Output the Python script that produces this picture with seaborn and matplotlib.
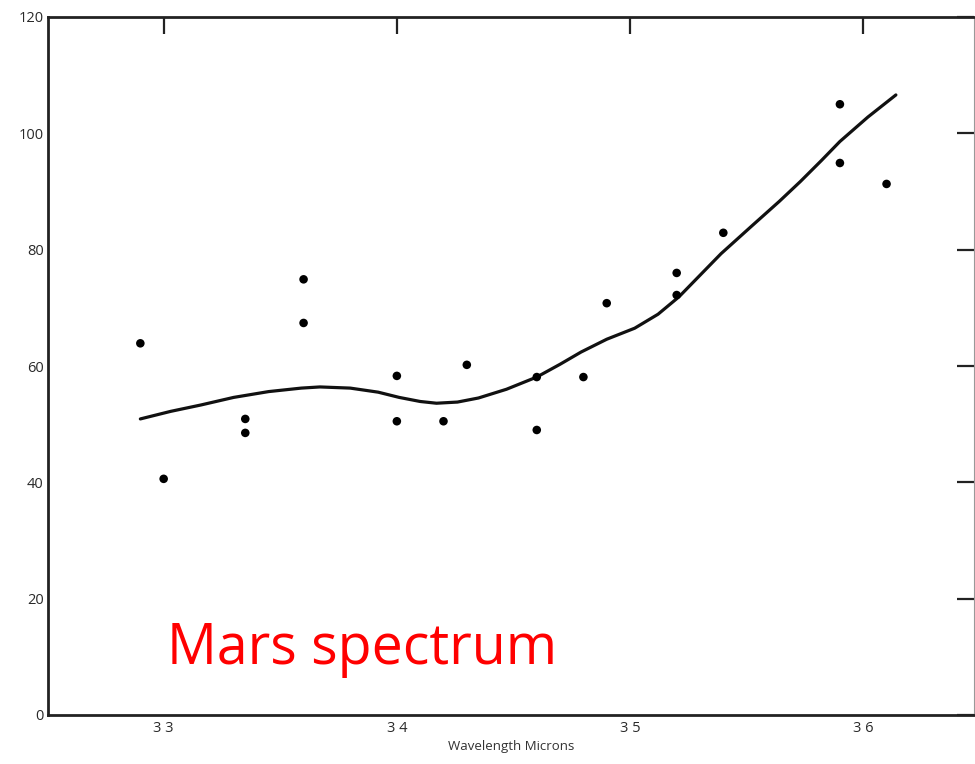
import matplotlib
matplotlib.use("Agg")
import matplotlib.pyplot as plt
import seaborn as sns
import pandas as pd

# Observed points (wavelength in microns, relative intensity)
point_x = [3.290, 3.300, 3.335, 3.335, 3.360, 3.360, 3.400, 3.400, 3.420, 3.430,
           3.460, 3.460, 3.480, 3.490, 3.520, 3.520, 3.540, 3.590, 3.590, 3.610]
point_y = [63.9, 40.6, 50.9, 48.5, 74.9, 67.4, 58.3, 50.5, 50.5, 60.2,
           58.1, 49.0, 58.1, 70.8, 76.0, 72.2, 82.9, 105.0, 94.9, 91.3]

# Smooth fitted curve
curve_x = [3.290, 3.303, 3.316, 3.330, 3.345, 3.359, 3.367, 3.380, 3.392, 3.401,
           3.410, 3.417, 3.426, 3.435, 3.447, 3.460, 3.470, 3.479, 3.490, 3.502,
           3.512, 3.521, 3.530, 3.539, 3.552, 3.564, 3.573, 3.582, 3.590, 3.602, 3.614]
curve_y = [50.9, 52.2, 53.3, 54.6, 55.6, 56.2, 56.4, 56.2, 55.5, 54.6,
           53.9, 53.6, 53.8, 54.5, 56.0, 58.1, 60.3, 62.4, 64.6, 66.5,
           68.9, 71.9, 75.6, 79.3, 84.0, 88.3, 91.7, 95.3, 98.6, 102.8, 106.6]

yticks = [0, 20, 40, 60, 80, 100, 120]
xticks = [3.3, 3.4, 3.5, 3.6]
xtick_labels = ["3 3", "3 4", "3 5", "3 6"]

pts = pd.DataFrame({"x": point_x, "y": point_y})
crv = pd.DataFrame({"x": curve_x, "y": curve_y})

sns.set_theme(style="white")
plt.rcParams["font.family"] = ["Open Sans", "DejaVu Sans"]

fig = plt.figure(figsize=(9.75, 7.64), dpi=100)
ax = fig.add_axes([48 / 975, 1 - 715 / 764, (974 - 48) / 975, (715 - 17) / 764])

sns.lineplot(data=crv, x="x", y="y", ax=ax, color="#111111", linewidth=2.3,
             sort=False, estimator=None)
sns.scatterplot(data=pts, x="x", y="y", ax=ax, color="#000000", s=38,
                edgecolor="none", zorder=3)

ax.set_xlim(3.2504, 3.6475)
ax.set_ylim(0, 120)
ax.set_xticks(xticks)
ax.set_xticklabels(xtick_labels)
ax.set_yticks(yticks)
ax.set_yticklabels([str(v) for v in yticks])

ax.tick_params(axis="both", which="both", direction="in", length=12, width=1.6,
               color="#222222", top=True, right=True, labelsize=10.5,
               labelcolor="#2a2a2a", pad=4)
ax.tick_params(axis="y", pad=3)

for side, sp in ax.spines.items():
    sp.set_color("#222222")
    sp.set_linewidth(2.0)
ax.spines["right"].set_linewidth(0.8)
ax.spines["right"].set_color("#999999")

ax.set_xlabel("Wavelength Microns", fontsize=9.5, color="#333333", labelpad=3)
ax.set_ylabel("")

fig.text(167 / 975, 1 - 664 / 764, "Mars spectrum", color="#ff0000",
         fontsize=40, ha="left", va="baseline", family=["Open Sans", "DejaVu Sans"])

fig.savefig("out.png", dpi=100, facecolor="white")
